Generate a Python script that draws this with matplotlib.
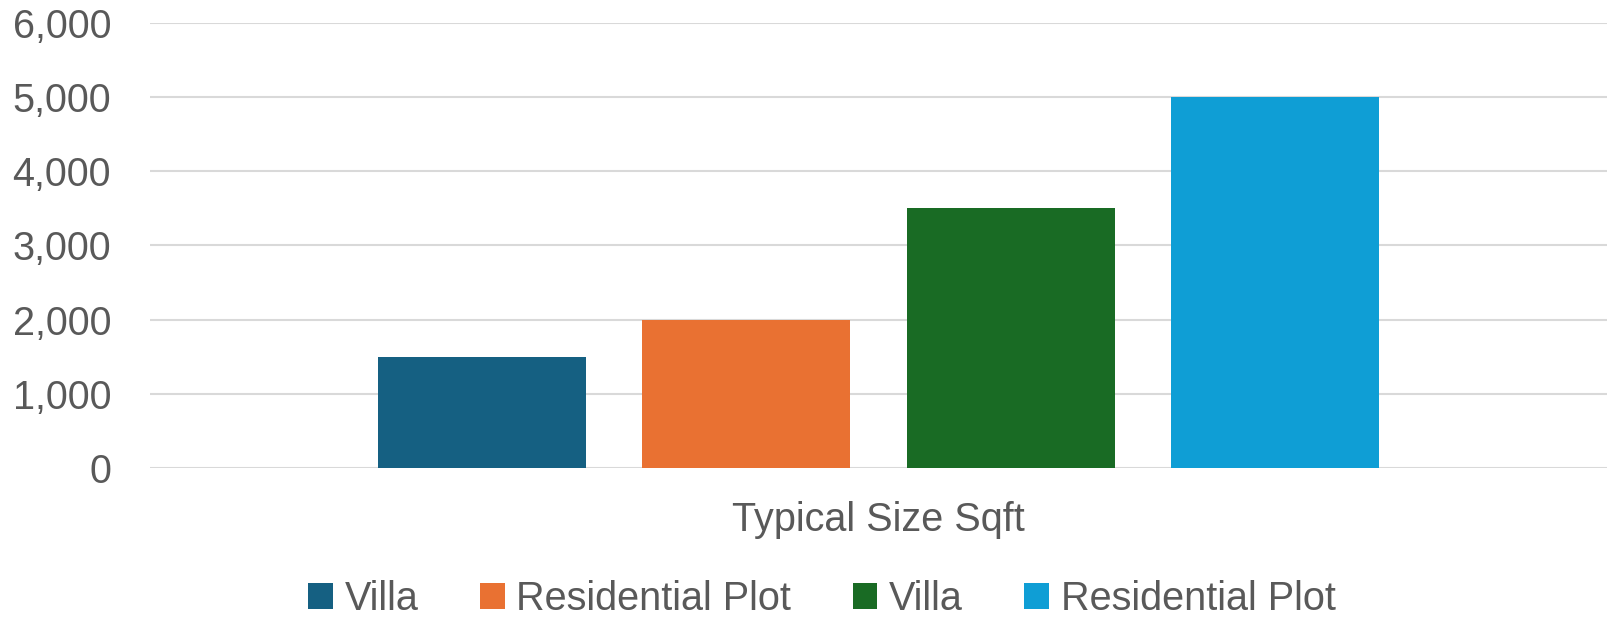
import matplotlib
matplotlib.use("Agg")
import matplotlib.pyplot as plt
from matplotlib.ticker import FuncFormatter

# Data
series_labels = ["Villa", "Residential Plot", "Villa", "Residential Plot"]
sizes_sqft = [1500, 2000, 3500, 5000]
category = "Typical Size Sqft"
bar_colors = ["#156082", "#E97132", "#196B24", "#0F9ED5"]

text_color = "#595959"
plt.rcParams["font.family"] = ["Liberation Sans", "DejaVu Sans"]
fs = 28.5

W, H = 1624, 619
fig = plt.figure(figsize=(W / 100, H / 100), dpi=100)
ax = fig.add_axes([150 / W, 1 - 468 / H, 1457 / W, (468 - 22.8) / H])

# clustered bars inside one category spanning -0.5..0.5
n = len(sizes_sqft)
width = 0.1428
step = 0.1815
for i, (lab, val, col) in enumerate(zip(series_labels, sizes_sqft, bar_colors)):
    x = (i - (n - 1) / 2) * step
    ax.bar(x, val, width=width, color=col, label=lab, zorder=3)

ax.set_xlim(-0.5, 0.5)
ax.set_ylim(0, 6000)
ax.set_yticks(range(0, 6001, 1000))
ax.yaxis.set_major_formatter(FuncFormatter(lambda v, p: f"{int(v):,}"))
ax.grid(axis="y", color="#D9D9D9", linewidth=1.5, zorder=0)
ax.set_xticks([0])
ax.set_xticklabels([category])
ax.tick_params(axis="both", length=0, labelsize=fs, labelcolor=text_color)
ax.tick_params(axis="y", pad=28)
ax.tick_params(axis="x", pad=24)
for s in ax.spines.values():
    s.set_visible(False)

fig.legend(loc="center", bbox_to_anchor=(822 / W, 1 - 599 / H), ncol=4,
           frameon=False, fontsize=fs, labelcolor=text_color,
           handlelength=0.62, handleheight=0.62, handletextpad=0.3,
           columnspacing=1.55, borderpad=0, borderaxespad=0)

fig.savefig("out.png", dpi=100)
